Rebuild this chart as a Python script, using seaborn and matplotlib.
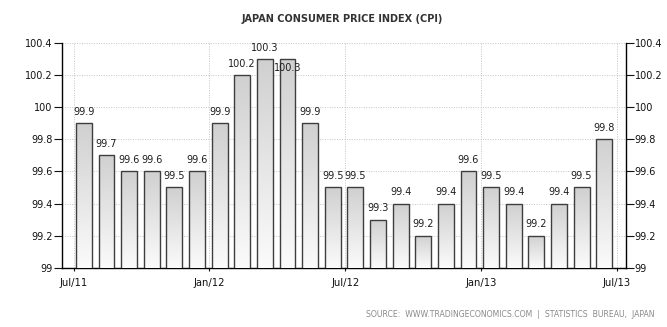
import numpy as np
import pandas as pd
import matplotlib
matplotlib.use("Agg")
import matplotlib.pyplot as plt
import seaborn as sns
from matplotlib.colors import LinearSegmentedColormap

# Monthly CPI readings, Jul 2011 - Jun 2013
months = ["Jul/11", "Aug/11", "Sep/11", "Oct/11", "Nov/11", "Dec/11",
          "Jan/12", "Feb/12", "Mar/12", "Apr/12", "May/12", "Jun/12",
          "Jul/12", "Aug/12", "Sep/12", "Oct/12", "Nov/12", "Dec/12",
          "Jan/13", "Feb/13", "Mar/13", "Apr/13", "May/13", "Jun/13"]
cpi = [99.9, 99.7, 99.6, 99.6, 99.5, 99.6,
       99.9, 100.2, 100.3, 100.3, 99.9, 99.5,
       99.5, 99.3, 99.4, 99.2, 99.4, 99.6,
       99.5, 99.4, 99.2, 99.4, 99.5, 99.8]
date_ticks = ["Jul/11", "Jan/12", "Jul/12", "Jan/13", "Jul/13"]
y_ticks = [99.0, 99.2, 99.4, 99.6, 99.8, 100.0, 100.2, 100.4]

df = pd.DataFrame({"month": months, "cpi": cpi})

sns.set_theme(style="white")
plt.rcParams["font.family"] = ["DejaVu Sans"]

fig = plt.figure(figsize=(6.67, 3.27), dpi=100)
ax = fig.add_axes([0.0925, 0.1813, 0.8456, 0.6872])
ax.set_facecolor("white")

sns.barplot(data=df, x="month", y="cpi", order=months, width=0.7,
            color="#e6e6e6", edgecolor="#3e3e3e", linewidth=1.0,
            saturation=1, errorbar=None, ax=ax, zorder=3)

ymin, ymax = 99.0, 100.4
ax.set_ylim(ymin, ymax)
ax.set_xlim(-0.98, 23.95)

# vertical grey gradient inside every bar
grad_cmap = LinearSegmentedColormap.from_list("bar_grad", ["#fbfbfb", "#d0d0d0"])
grad = np.linspace(0, 1, 256).reshape(-1, 1)
for patch in ax.patches:
    x0 = patch.get_x()
    w = patch.get_width()
    top = patch.get_y() + patch.get_height()
    im = ax.imshow(grad, extent=[x0, x0 + w, ymin, top], origin="lower",
                   aspect="auto", cmap=grad_cmap, zorder=3.5,
                   interpolation="bicubic")
    im.set_clip_path(patch)
    patch.set_facecolor("none")
    patch.set_zorder(4)
ax.set_xlim(-0.98, 23.95)
ax.set_ylim(ymin, ymax)

# value labels above bars
for i, v in enumerate(cpi):
    dy = -6.8 if i == 9 else 8.2
    ax.annotate(f"{v:g}", xy=(i, v), xytext=(0, dy), textcoords="offset points",
                ha="center", va="center", fontsize=7, color="#1e1e1e", zorder=6)

# axes ticks: date ticks sit at month starts (bars are centred mid-month)
tick_pos = [months.index(m) - 0.45 if m in months else len(months) - 0.45
            for m in date_ticks]
ax.set_xticks(tick_pos)
ax.set_xticklabels(date_ticks)
ax.set_yticks(y_ticks)
ax.set_yticklabels([f"{t:g}" for t in y_ticks])
ax.set_xlabel("")
ax.set_ylabel("")

ax.tick_params(axis="y", which="both", left=True, right=True, labelleft=True,
               labelright=True, length=5.5, width=0.8, pad=1, labelsize=7,
               colors="#111111", direction="out")
ax.tick_params(axis="x", bottom=True, length=2.5, width=0.8, pad=5,
               labelsize=7.2, colors="#111111", direction="out")

ax.grid(True, axis="both", linestyle=(0, (1, 1.5)), color="#c4c4c4",
        linewidth=0.7, zorder=0)
ax.set_axisbelow(True)

for side in ["left", "right", "bottom"]:
    ax.spines[side].set_visible(True)
    ax.spines[side].set_color("#000000")
    ax.spines[side].set_linewidth(1.0)
ax.spines["top"].set_visible(False)

fig.text(0.513, 0.943, "JAPAN CONSUMER PRICE INDEX (CPI)", ha="center",
         va="center", fontsize=7, fontweight="bold", color="#333333")
fig.text(0.982, 0.037, "SOURCE:  WWW.TRADINGECONOMICS.COM  |  STATISTICS  BUREAU,  JAPAN",
         ha="right", va="center", fontsize=5.6, color="#8a8a8a")

fig.savefig("out.png", dpi=100, facecolor="white")
